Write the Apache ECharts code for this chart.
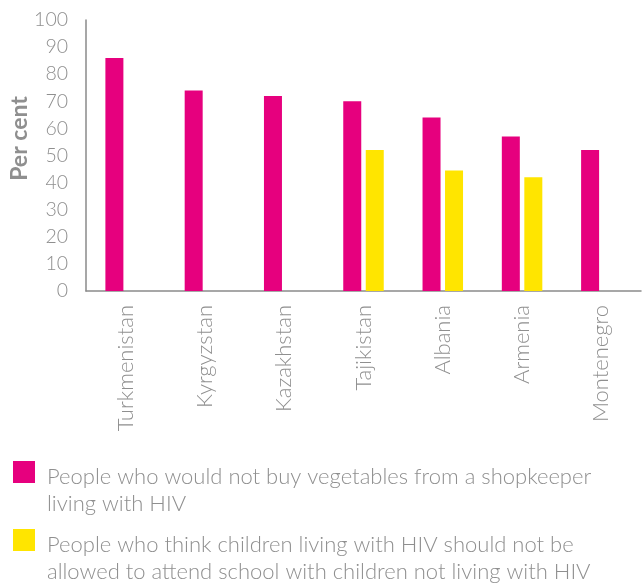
<!DOCTYPE html>
<html>
<head>
<meta charset="utf-8">
<script src="https://cdn.jsdelivr.net/npm/echarts@6/dist/echarts.min.js"></script>
<style>
html,body{margin:0;padding:0;background:#fff;}
#chart{width:643px;height:584px;}
</style>
</head>
<body>
<div id="chart"></div>
<script>
var categories = ["Turkmenistan", "Kyrgyzstan", "Kazakhstan", "Tajikistan", "Albania", "Armenia", "Montenegro"];
var vegetablesValues = [86, 74, 72, 70, 64, 57, 52];
var schoolValues = [null, null, null, 52, 44.5, 42, null];
var seriesNames = [
  "People who would not buy vegetables from a shopkeeper\nliving with HIV",
  "People who think children living with HIV should not be\nallowed to attend school with children not living with HIV"
];
var yAxisName = "Per cent";

var FONT = "Lato";
var GREY = "#8f8f8f";
// square swatch drawn at the top of a taller, transparent symbol box so the two-line text starts level with it
var SWATCH = "path://M0,0H22V22H0Z M29,58L29,58Z";
function legendFor(name, top) {
  return {
    orient: "vertical",
    left: 13,
    top: top,
    padding: 0,
    itemWidth: 29,
    itemHeight: 58,
    icon: SWATCH,
    data: [name],
    selectedMode: false,
    textStyle: {fontFamily: FONT, fontWeight: 300, fontSize: 22, color: GREY, lineHeight: 27}
  };
}
var chart = echarts.init(document.getElementById("chart"), null, {renderer: "canvas"});
chart.setOption({
  animation: false,
  backgroundColor: "#fff",
  grid: {left: 86, right: 2, top: 20, bottom: 293, containLabel: false, outerBoundsMode: "none"},
  legend: [legendFor(seriesNames[0], 461), legendFor(seriesNames[1], 529)],
  xAxis: {
    type: "category",
    data: categories,
    axisLine: {lineStyle: {color: "#8a8a8a", width: 1.5}},
    axisTick: {show: false},
    axisLabel: {rotate: 90, margin: 14, fontFamily: FONT, fontWeight: 300, fontSize: 22, color: GREY, interval: 0}
  },
  yAxis: {
    type: "value",
    min: 0, max: 100, interval: 10,
    name: yAxisName,
    nameLocation: "middle",
    nameRotate: 90,
    nameGap: 55,
    nameMoveOverlap: false,
    nameTextStyle: {fontFamily: FONT, fontWeight: "bold", fontSize: 23, color: GREY, padding: [0, 0, 0, 34]},
    axisLine: {show: true, lineStyle: {color: "#8a8a8a", width: 1.5}},
    axisTick: {show: false},
    splitLine: {show: false},
    axisLabel: {margin: 18, fontFamily: FONT, fontWeight: 300, fontSize: 19.5, color: GREY}
  },
  series: [
    {name: seriesNames[0], type: "bar", data: vegetablesValues, barWidth: 18, barGap: "25%",
     itemStyle: {color: "#E6007E"}},
    {name: seriesNames[1], type: "bar", data: schoolValues, barWidth: 18, barGap: "25%",
     itemStyle: {color: "#FFE500"}}
  ]
});
</script>
</body>
</html>
